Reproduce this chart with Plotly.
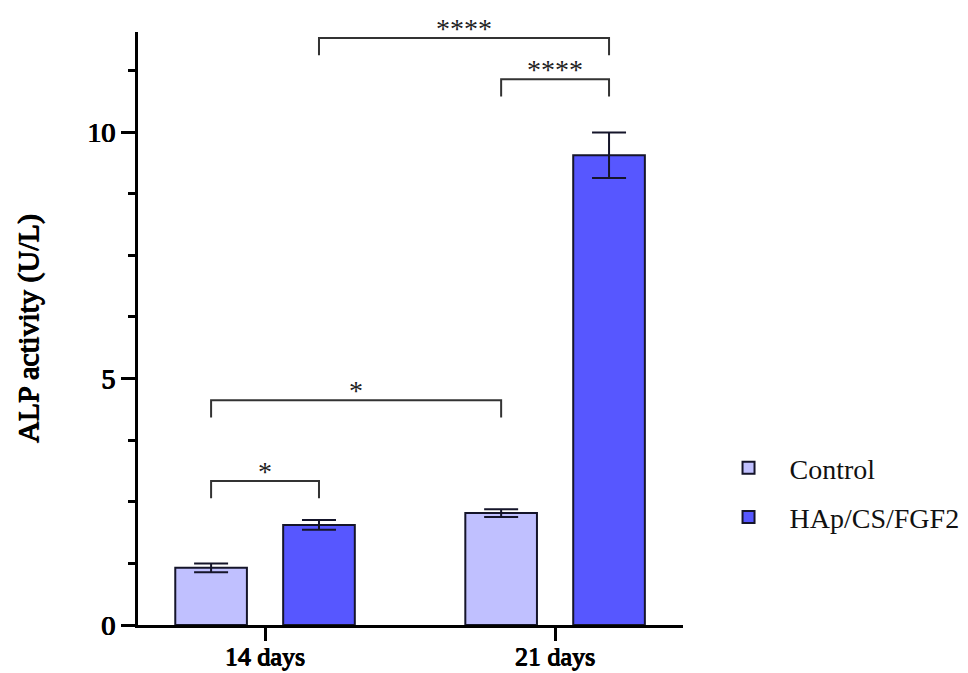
import plotly.graph_objects as go

# ---- data ----
categories = ["14 days", "21 days"]
series_names = ["Control", "HAp/CS/FGF2"]
control_vals = [1.16, 2.27]
control_err = [0.09, 0.08]
hap_vals = [2.03, 9.53]
hap_err = [0.10, 0.46]
y_tick_vals = [0, 5, 10]

# significance comparisons: (group_a, series_a, group_b, series_b, label)
comparisons = [
    (0, 0, 0, 1, "*"),
    (0, 0, 1, 0, "*"),
    (1, 0, 1, 1, "****"),
    (0, 1, 1, 1, "****"),
]
# bracket heights (layout, in axis units)
bracket_levels = [2.92, 4.56, 11.07, 11.91]
bracket_drop = 0.35

colors = ["#C0C0FF", "#5757FF"]
BARGAP = 0.256
BARGROUPGAP = 0.336
FONT = "Liberation Serif"
# faux-bold via text shadow
BOLD = "0.6px 0 0 black, -0.6px 0 0 black, 0 0.4px 0 black"

xs = list(range(len(categories)))
series_vals = [control_vals, hap_vals]
series_errs = [control_err, hap_err]

fig = go.Figure()
for name, vals, errs, col in zip(series_names, series_vals, series_errs, colors):
    fig.add_trace(go.Bar(
        x=xs, y=vals, name=name, legendgroup=name,
        marker=dict(color=col, line=dict(color="#15152a", width=2)),
        error_y=dict(type="data", array=errs, visible=True,
                     color="#15152a", thickness=2, width=17),
    ))

# bracket positions derived from grouped-bar geometry
off = (1 - BARGAP) / 4
def bar_x(g, s):
    return xs[g] + (-off if s == 0 else off)

shapes = []
annotations = []
for (ga, sa, gb, sb, label), lvl in zip(comparisons, bracket_levels):
    x0 = bar_x(ga, sa)
    x1 = bar_x(gb, sb)
    shapes.append(dict(
        type="path", xref="x", yref="y",
        path=f"M {x0} {lvl - bracket_drop} L {x0} {lvl} L {x1} {lvl} L {x1} {lvl - bracket_drop}",
        line=dict(color="#333333", width=2),
    ))
    annotations.append(dict(
        x=(x0 + x1) / 2, y=lvl, xref="x", yref="y", text=label,
        showarrow=False, yanchor="bottom", yshift=-8,
        font=dict(family=FONT, size=28, color="#222222"),
    ))

fig.update_layout(
    width=968, height=673,
    font=dict(family=FONT),
    margin=dict(l=138, r=285, t=32, b=48, autoexpand=False),
    paper_bgcolor="white", plot_bgcolor="white",
    barmode="group", bargap=BARGAP, bargroupgap=BARGROUPGAP,
    shapes=shapes, annotations=annotations,
    showlegend=True,
    legend=dict(x=1.045, y=0.2234, xanchor="left", yanchor="middle",
                font=dict(family=FONT, size=28, color="#111111"),
                itemwidth=72, tracegroupgap=10, bgcolor="rgba(0,0,0,0)"),
)
fig.update_xaxes(
    range=[-0.438, 1.441], tickvals=xs, ticktext=categories,
    showline=True, linecolor="black", linewidth=3,
    ticks="outside", ticklen=13, tickwidth=3, tickcolor="black",
    ticklabelstandoff=-7,
    tickfont=dict(family=FONT, size=26, color="black", shadow=BOLD),
    showgrid=False, zeroline=False, automargin=False,
)
fig.update_yaxes(
    range=[0, 12.03], tickvals=y_tick_vals,
    showline=True, linecolor="black", linewidth=3,
    ticks="outside", ticklen=14, tickwidth=3, tickcolor="black",
    minor=dict(dtick=1.25, tick0=0, ticks="outside", ticklen=7, tickwidth=3, tickcolor="black"),
    tickfont=dict(family=FONT, size=28, color="black", shadow=BOLD),
    title=dict(text="ALP activity (U/L)", standoff=40,
               font=dict(family=FONT, size=30, color="black", shadow=BOLD)),
    showgrid=False, zeroline=False, automargin=False,
)

fig.write_html("out.html")
